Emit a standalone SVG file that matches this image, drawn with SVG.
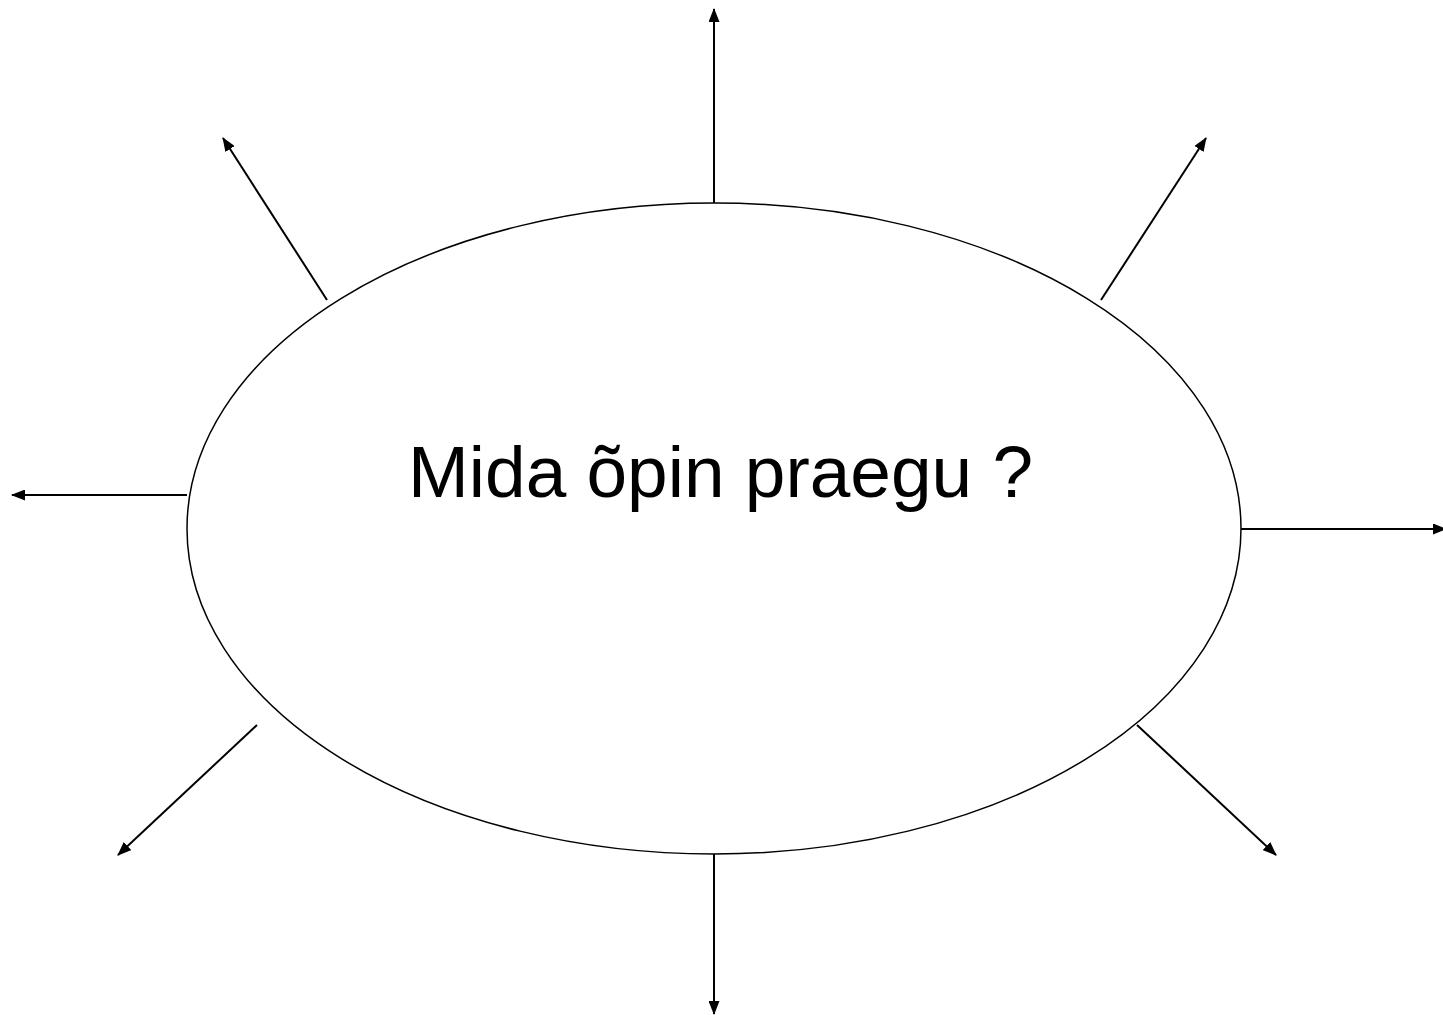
<svg xmlns="http://www.w3.org/2000/svg" width="1443" height="1015" viewBox="0 0 1443 1015">
<style>
.conn{stroke:#000;stroke-width:2;fill:none;marker-end:url(#ah)}
.lbl{font-family:"Liberation Sans",Arial,sans-serif;font-size:73px;fill:#000}
</style>
<defs>
<marker id="ah" viewBox="0 0 14 11" refX="13" refY="5.5" markerWidth="14" markerHeight="11" orient="auto" markerUnits="userSpaceOnUse">
<path d="M0,0 L14,5.5 L0,11 z" fill="#000"/>
</marker>
</defs>
<rect width="1443" height="1015" fill="#fff"/>
<g id="center">
<ellipse cx="714" cy="528.5" rx="527" ry="325.5" fill="#fff" stroke="#000" stroke-width="1.5"/>
<text class="lbl" x="408" y="497">Mida õpin praegu ?</text>
</g>
<g id="connectors">
<line class="conn" x1="714" y1="203" x2="714" y2="9"/>
<line class="conn" x1="327" y1="300" x2="223" y2="138"/>
<line class="conn" x1="1101" y1="300" x2="1206" y2="138"/>
<line class="conn" x1="187" y1="495" x2="12" y2="495"/>
<line class="conn" x1="1241" y1="529" x2="1446" y2="529"/>
<line class="conn" x1="257" y1="725" x2="118" y2="855"/>
<line class="conn" x1="1137" y1="725" x2="1276" y2="855"/>
<line class="conn" x1="714" y1="854" x2="714" y2="1014"/>
</g>
</svg>
